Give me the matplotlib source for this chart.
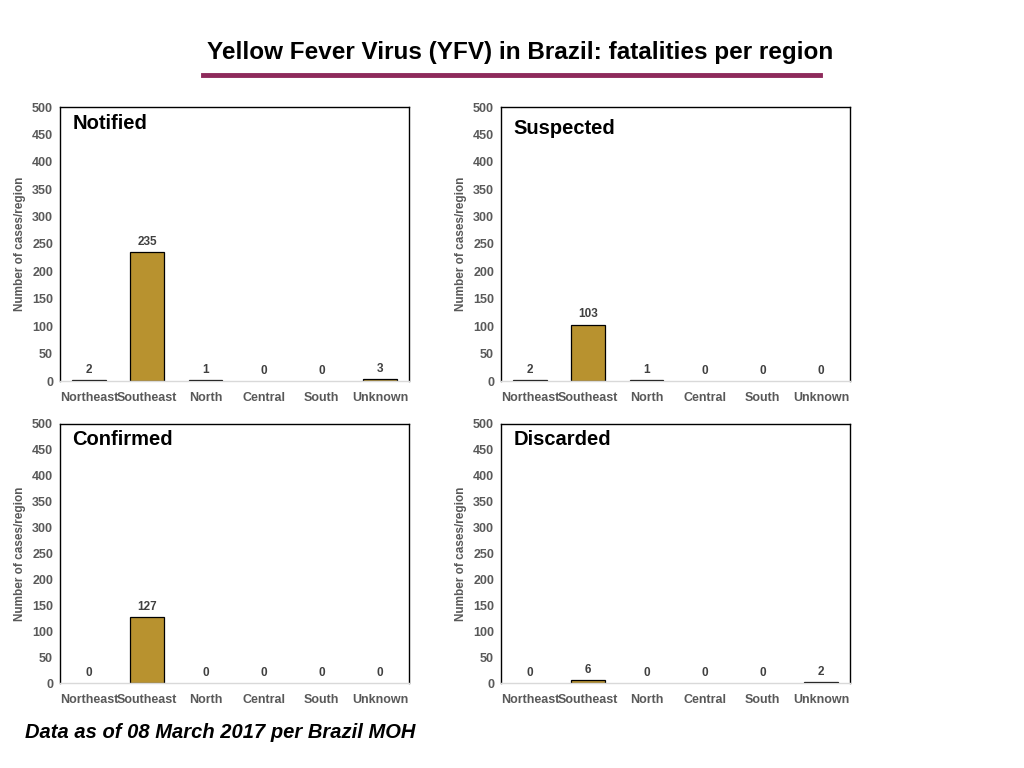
import matplotlib
matplotlib.use("Agg")
import matplotlib.pyplot as plt
from matplotlib.lines import Line2D

plt.rcParams['font.family'] = ['Liberation Sans', 'DejaVu Sans']

regions = ["Northeast", "Southeast", "North", "Central", "South", "Unknown"]
notified = [2, 235, 1, 0, 0, 3]
suspected = [2, 103, 1, 0, 0, 0]
confirmed = [0, 127, 0, 0, 0, 0]
discarded = [0, 6, 0, 0, 0, 2]
panel_titles = ["Notified", "Suspected", "Confirmed", "Discarded"]
yticks = [0, 50, 100, 150, 200, 250, 300, 350, 400, 450, 500]

title = "Yellow Fever Virus (YFV) in Brazil: fatalities per region"
footnote = "Data as of 08 March 2017 per Brazil MOH"

BAR = "#B8922F"
GRAY = "#595959"

fig = plt.figure(figsize=(10.24, 7.68), dpi=100)

W, H = 1024, 768
boxes = [
    (60, 107, 409, 381),
    (501, 107, 850, 381),
    (60, 424, 409, 683),
    (501, 424, 850, 683),
]
series = [notified, suspected, confirmed, discarded]

for (x0, y0, x1, y1), vals, ptitle in zip(boxes, series, panel_titles):
    ax = fig.add_axes([x0 / W, 1 - y1 / H, (x1 - x0) / W, (y1 - y0) / H])
    xs = range(len(regions))
    bars = ax.bar(xs, vals, width=0.58, color=BAR, edgecolor="black", linewidth=0.9, zorder=2)
    for b, v in zip(bars, vals):
        if v == 0:
            b.set_linewidth(0)
    ax.set_xlim(-0.5, len(regions) - 0.5)
    ax.set_ylim(0, 500)
    ax.set_yticks(yticks)
    ax.set_yticklabels([str(t) for t in yticks], color=GRAY, fontsize=9, fontweight="bold")
    ax.set_xticks(list(xs))
    ax.set_xticklabels(regions, color=GRAY, fontsize=9, fontweight="bold")
    ax.tick_params(axis="both", length=0, pad=5)
    ax.tick_params(axis="x", pad=8)
    for s in ["top", "right", "left"]:
        ax.spines[s].set_color("black")
        ax.spines[s].set_linewidth(1.0)
    ax.spines["bottom"].set_color("#D9D9D9")
    ax.spines["bottom"].set_linewidth(1.0)
    ax.set_ylabel("Number of cases/region", color=GRAY, fontsize=8.5, fontweight="bold", labelpad=4)
    for i, v in enumerate(vals):
        ax.text(i, v + 8, str(v), ha="center", va="bottom", color="#404040",
                fontsize=8.5, fontweight="bold")
    ax.text(0.035, 0.975 if ptitle != "Suspected" else 0.955, ptitle, transform=ax.transAxes,
            ha="left", va="top", fontsize=14.5, fontweight="bold", color="black")

fig.text(520 / W, 1 - 52 / H, title, ha="center", va="center", fontsize=17.5,
         fontweight="bold", color="black")
fig.add_artist(Line2D([203 / W, 820 / W], [1 - 75 / H, 1 - 75 / H], color="#8E2A5B",
                      linewidth=3.5, transform=fig.transFigure))
fig.text(25 / W, 1 - 733 / H, footnote, ha="left", va="center", fontsize=14.5,
         fontweight="bold", fontstyle="italic", color="black")

fig.savefig("out.png", dpi=100)
